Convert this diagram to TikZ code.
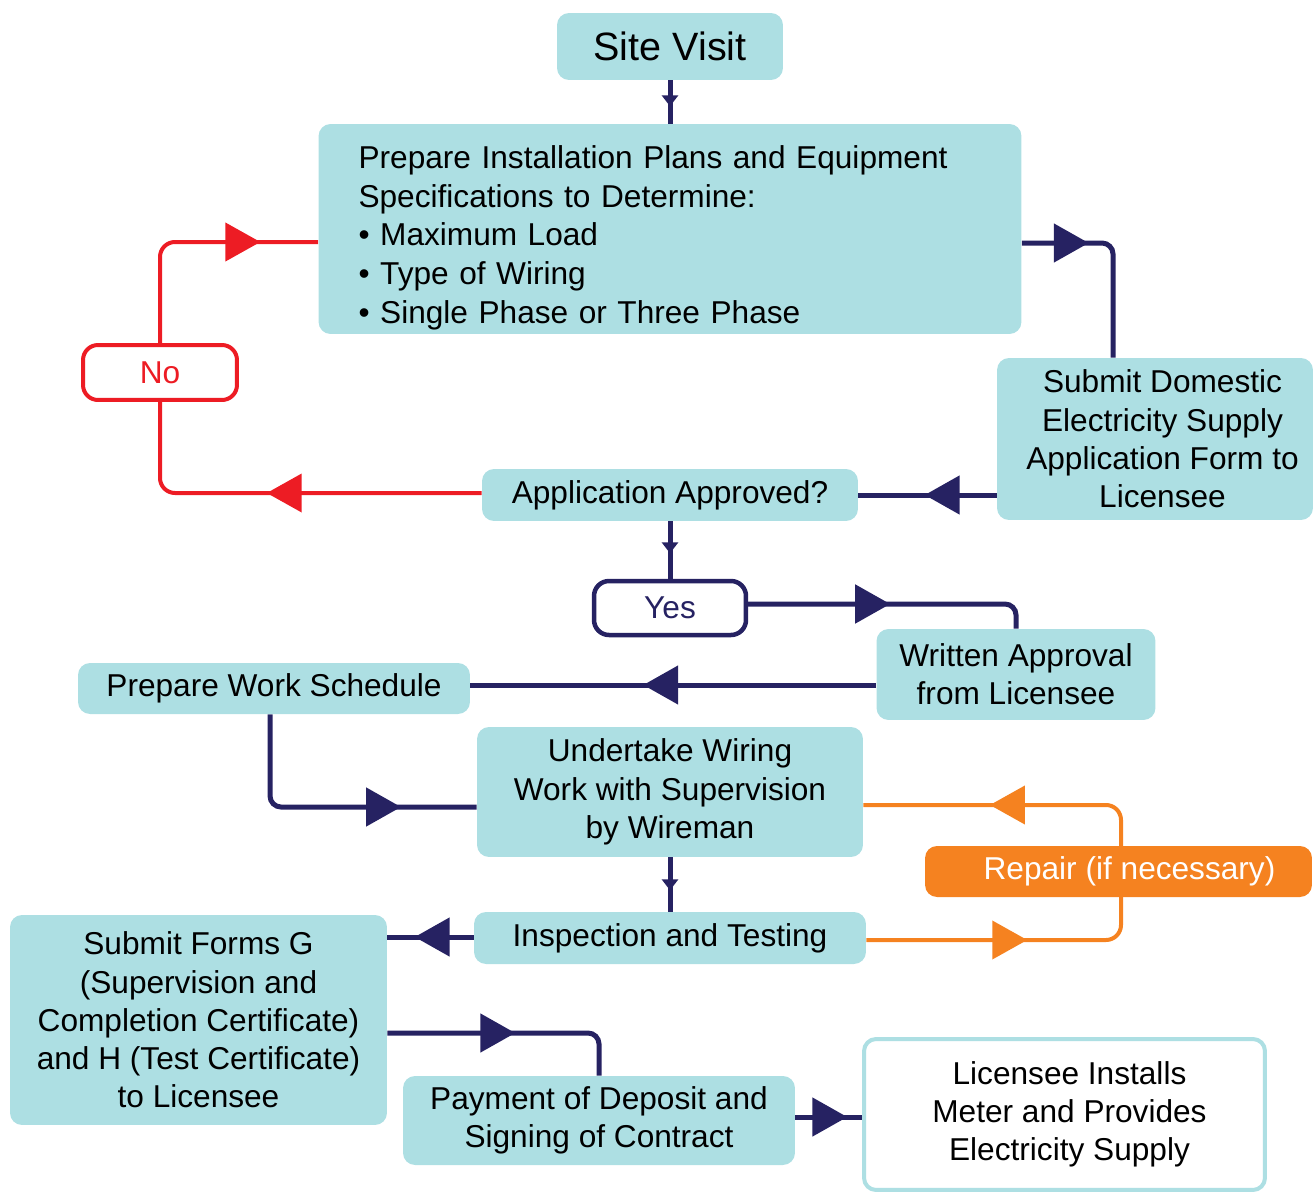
\documentclass[tikz,border=0pt]{standalone}
\usepackage{fontspec}
\setmainfont{Liberation Sans}
\usepackage{xcolor}
\usetikzlibrary{arrows.meta, decorations.markings, backgrounds}

\definecolor{boxteal}{HTML}{ADDFE3}
\definecolor{flownavy}{HTML}{262262}
\definecolor{flowred}{HTML}{ED1C24}
\definecolor{floworange}{HTML}{F58220}

\tikzset{
    bigtip/.tip={Triangle[length=0.7cm, width=0.76cm]},
    smalltip/.tip={Triangle[length=0.22cm, width=0.32cm]},
    tip at/.style 2 args={postaction={decorate, decoration={markings,
        mark=at position #1 with {\arrow{#2}}}}},
    flow/.style={draw=flownavy, line width=0.1cm, rounded corners=0.22cm},
    redflow/.style={draw=flowred, line width=0.08cm, rounded corners=0.3cm},
    orangeflow/.style={draw=floworange, line width=0.08cm, rounded corners=0.3cm},
}

\begin{document}
\begin{tikzpicture}[x=0.02cm, y=-0.02cm, font=\fontsize{18}{21.8}\selectfont]
\useasboundingbox (0,0) rectangle (1315,1193);

\begin{scope}[every node/.style={rectangle, rounded corners=0.24cm, fill=boxteal,
    align=center, inner sep=0pt}]

    \node[minimum width=4.52cm, minimum height=1.34cm, font=\fontsize{22.5}{26}\selectfont]
        (visit) at (670, 46.5) {Site Visit};
    % plans
    \node[minimum width=14.06cm, minimum height=4.2cm, text width=12.46cm, align=left,
        font=\fontsize{18}{22}\selectfont] (plans) at (670, 229)
        {\rule{0pt}{0.81cm}Prepare Installation Plans and Equipment\\
         Specifications to Determine:\\
         \textbullet{} Maximum Load\\
         \textbullet{} Type of Wiring\\
         \textbullet{} Single Phase or Three Phase};
    % application
    \node[minimum width=6.32cm, minimum height=3.24cm] (domestic) at (1155, 439)
        {\hspace{0.3cm}Submit Domestic\\\hspace{0.3cm}Electricity Supply\\
         \hspace{0.3cm}Application Form to\\\hspace{0.3cm}Licensee};
    \node[minimum width=7.52cm, minimum height=1.04cm] (approved) at (670, 495)
        {Application Approved?};
    \node[minimum width=3.08cm, minimum height=1.1cm, fill=white, draw=flowred,
        line width=0.08cm, rounded corners=0.3cm, text=flowred] (no) at (160, 372.5) {No};
    \node[minimum width=3.04cm, minimum height=1.08cm, fill=white, draw=flownavy,
        line width=0.09cm, rounded corners=0.3cm, text=flownavy] (yes) at (670, 608) {Yes};
    % approval
    \node[minimum width=5.58cm, minimum height=1.82cm] (written) at (1016, 674.5)
        {Written Approval\\from Licensee};
    \node[minimum width=7.84cm, minimum height=1.02cm] (schedule) at (274, 688.5)
        {Prepare Work Schedule};
    % wiring
    \node[minimum width=7.72cm, minimum height=2.6cm] (wiring) at (670, 792)
        {Undertake Wiring\\Work with Supervision\\by Wireman};
    \node[minimum width=7.74cm, minimum height=1.02cm, fill=floworange, text=white]
        (repair) at (1118.5, 871.5) {\hspace{0.44cm}Repair (if necessary)};
    \node[minimum width=7.84cm, minimum height=1.04cm] (inspection) at (670, 938)
        {Inspection and Testing};
    % supply
    \node[minimum width=7.54cm, minimum height=4.2cm] (forms) at (198.5, 1020)
        {Submit Forms G\\(Supervision and\\Completion Certificate)\\and H (Test Certificate)\\to Licensee};
    \node[minimum width=7.84cm, minimum height=1.78cm] (payment) at (599, 1120.5)
        {Payment of Deposit and\\Signing of Contract};
    \node[minimum width=8.02cm, minimum height=3.02cm, fill=white, draw=boxteal,
        line width=0.08cm] (meter) at (1064.5, 1114.5)
        {\hspace{0.2cm}Licensee Installs\\\hspace{0.2cm}Meter and Provides\\\hspace{0.2cm}Electricity Supply};
\end{scope}

\begin{pgfonlayer}{background}
    \draw[flow, tip at={0.6}{smalltip}] (visit.south) -- (visit.south |- plans.north);
    \draw[flow, tip at={1.34cm}{bigtip}] (plans.east |- 0,243) -| ([xshift=-0.84cm]domestic.north);
    \draw[flow, tip at={1.44cm}{bigtip}] (domestic.west |- approved) -- (approved.east);
    % no
    \draw[redflow, tip at={4.3cm}{bigtip}] (approved.west |- 0,493) -| (no.south);
    \draw[redflow, tip at={3.9cm}{bigtip}] (no.north) |- (plans.west |- 0,242);
    % yes
    \draw[flow, tip at={0.64cm}{smalltip}] (approved.south) -- (yes.north);
    \draw[flow, tip at={2.84cm}{bigtip}] (yes.east |- 0,604) -| (written.north);
    \draw[flow, tip at={4.66cm}{bigtip}] (written.west |- 0,685) -- (schedule.east |- 0,685);
    \draw[flow, tip at={4.38cm}{bigtip}] ([xshift=-0.08cm]schedule.south) |- (wiring.west |- 0,807);
    \draw[flow, tip at={0.66cm}{smalltip}] (wiring.south) -- (inspection.north);
    % repair loop
    \draw[orangeflow, tip at={3.22cm}{bigtip}, tip at={10.16cm}{bigtip}]
        (inspection.east |- 0,940) -| ([xshift=0.05cm]repair.center) |- (wiring.east |- 0,805);
    % forms and contract
    \draw[flow, tip at={1.18cm}{bigtip}] (inspection.west |- 0,937) -- (forms.east |- 0,937);
    \draw[flow, tip at={2.56cm}{bigtip}] (forms.east |- 0,1033) -| (payment.north);
    \draw[flow, tip at={1.04cm}{bigtip}] (payment.east |- 0,1117) -- (meter.west |- 0,1117);
\end{pgfonlayer}
\end{tikzpicture}
\end{document}
